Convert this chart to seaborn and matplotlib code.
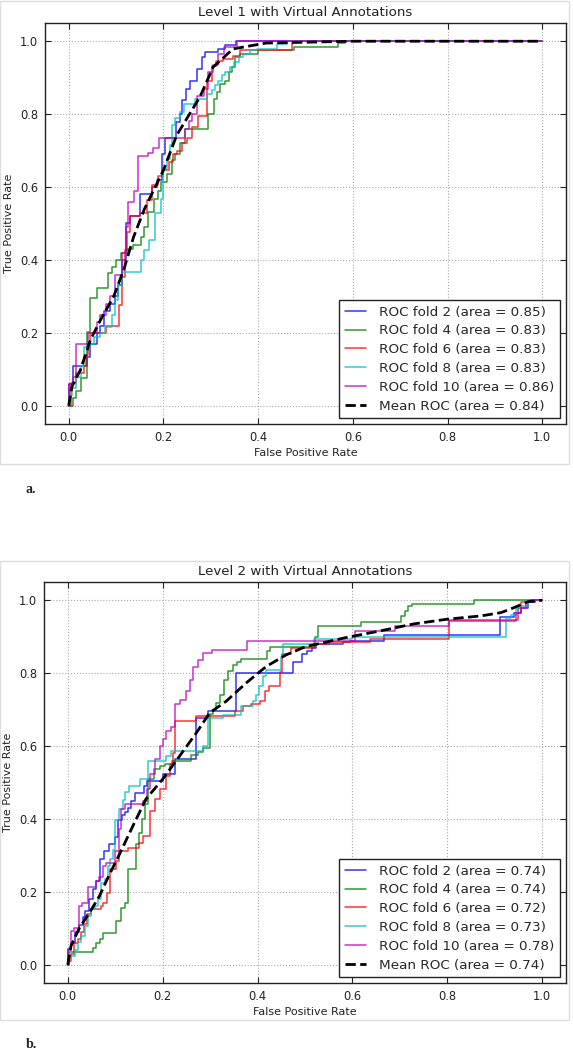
import matplotlib
matplotlib.use("Agg")
import matplotlib.pyplot as plt
import seaborn as sns
import numpy as np
from matplotlib.patches import Rectangle
from matplotlib.ticker import FormatStrFormatter

# ---------- data ----------
fold_names = ["ROC fold 2", "ROC fold 4", "ROC fold 6", "ROC fold 8", "ROC fold 10"]
fold_colors = ["#0000ff", "#008000", "#ff0000", "#00bfbf", "#bf00bf"]

# Level 1 : x = fpr where tpr jumps, y = tpr after the jump
l1_auc = [0.85, 0.83, 0.83, 0.83, 0.86]
l1_mean_auc = 0.84
l1_fpr = [
    [0, 0.01, 0.039, 0.046, 0.06, 0.067, 0.075, 0.088, 0.098, 0.105, 0.112, 0.12, 0.13, 0.151, 0.175, 0.186,
     0.196, 0.204, 0.226, 0.235, 0.24, 0.248, 0.256, 0.27, 0.281, 0.288, 0.316, 0.33, 0.354, 1.0],
    [0.009, 0.016, 0.025, 0.039, 0.046, 0.06, 0.082, 0.091, 0.1, 0.11, 0.124, 0.135, 0.152, 0.16, 0.167, 0.181,
     0.188, 0.194, 0.208, 0.218, 0.225, 0.235, 0.245, 0.295, 0.306, 0.313, 0.32, 0.331, 0.338, 0.345, 0.352,
     0.362, 0.4, 0.476, 0.568, 0.583, 1.0],
    [0.004, 0.015, 0.032, 0.037, 0.04, 0.046, 0.078, 0.106, 0.113, 0.118, 0.124, 0.13, 0.151, 0.165, 0.175, 0.189,
     0.2, 0.211, 0.221, 0.228, 0.239, 0.249, 0.26, 0.274, 0.291, 0.302, 0.312, 0.326, 0.347, 0.361, 0.471, 1.0],
    [0, 0.007, 0.016, 0.025, 0.032, 0.044, 0.053, 0.067, 0.077, 0.091, 0.098, 0.105, 0.112, 0.152, 0.159, 0.169,
     0.183, 0.194, 0.2, 0.208, 0.213, 0.218, 0.225, 0.236, 0.243, 0.267, 0.292, 0.302, 0.309, 0.316, 0.324, 0.33,
     0.341, 0.348, 0.359, 0.369, 0.383, 0.397, 0.44, 0.461, 1.0],
    [0, 0.009, 0.016, 0.04, 0.06, 0.067, 0.079, 0.088, 0.098, 0.112, 0.12, 0.126, 0.137, 0.146, 0.167, 0.177,
     0.191, 0.246, 0.253, 0.26, 0.271, 0.285, 0.295, 0.305, 0.316, 0.327, 0.355, 1.0],
]
l1_tpr = [
    [0.06, 0.11, 0.135, 0.17, 0.2, 0.22, 0.26, 0.28, 0.30, 0.33, 0.40, 0.50, 0.52, 0.58, 0.60, 0.62,
     0.69, 0.735, 0.778, 0.80, 0.838, 0.87, 0.89, 0.924, 0.956, 0.97, 0.98, 0.99, 1.0, 1.0],
    [0.02, 0.04, 0.076, 0.203, 0.297, 0.322, 0.363, 0.38, 0.40, 0.42, 0.43, 0.44, 0.463, 0.49, 0.532, 0.568,
     0.59, 0.614, 0.637, 0.673, 0.69, 0.72, 0.76, 0.80, 0.842, 0.86, 0.883, 0.89, 0.915, 0.93, 0.956,
     0.965, 0.975, 0.985, 0.995, 1.0, 1.0],
    [0.062, 0.089, 0.108, 0.14, 0.17, 0.20, 0.219, 0.276, 0.354, 0.427, 0.477, 0.52, 0.53, 0.564, 0.605, 0.63,
     0.646, 0.67, 0.69, 0.70, 0.72, 0.735, 0.766, 0.796, 0.89, 0.933, 0.945, 0.95, 0.96, 0.975, 1.0, 1.0],
    [0.03, 0.05, 0.08, 0.11, 0.162, 0.17, 0.19, 0.20, 0.217, 0.25, 0.29, 0.33, 0.368, 0.40, 0.427, 0.454,
     0.53, 0.568, 0.65, 0.678, 0.714, 0.77, 0.79, 0.805, 0.828, 0.842, 0.856, 0.865, 0.88, 0.89, 0.906, 0.915,
     0.929, 0.942, 0.956, 0.965, 0.975, 0.98, 0.993, 1.0, 1.0],
    [0.06, 0.08, 0.17, 0.20, 0.23, 0.25, 0.28, 0.30, 0.36, 0.42, 0.49, 0.56, 0.59, 0.685, 0.694, 0.707,
     0.735, 0.76, 0.78, 0.80, 0.85, 0.87, 0.915, 0.935, 0.965, 0.984, 1.0, 1.0],
]
l1_mean_fpr = [0, 0.007, 0.025, 0.046, 0.067, 0.095, 0.116, 0.137, 0.16, 0.2, 0.228, 0.277, 0.305, 0.347,
               0.417, 0.6, 1.0]
l1_mean_tpr = [0, 0.053, 0.099, 0.181, 0.235, 0.30, 0.372, 0.463, 0.54, 0.646, 0.742, 0.847, 0.929, 0.979,
               0.995, 1.0, 1.0]

# Level 2
l2_auc = [0.74, 0.74, 0.72, 0.73, 0.78]
l2_mean_auc = 0.74
l2_fpr = [
    [0, 0.007, 0.016, 0.023, 0.032, 0.037, 0.044, 0.053, 0.06, 0.068, 0.077, 0.088, 0.099, 0.106, 0.115, 0.12,
     0.127, 0.134, 0.141, 0.16, 0.166, 0.2, 0.225, 0.271, 0.295, 0.354, 0.474, 0.494, 0.505, 0.515, 0.523, 0.58,
     0.594, 0.666, 0.91, 0.94, 0.955, 0.97, 0.985, 1.0],
    [0.003, 0.053, 0.06, 0.067, 0.074, 0.102, 0.113, 0.12, 0.127, 0.144, 0.15, 0.157, 0.163, 0.169, 0.181,
     0.194, 0.206, 0.22, 0.26, 0.275, 0.285, 0.30, 0.306, 0.313, 0.32, 0.33, 0.338, 0.348, 0.356, 0.366, 0.419,
     0.427, 0.521, 0.528, 0.618, 0.702, 0.71, 0.717, 0.726, 0.857, 1.0],
    [0.003, 0.007, 0.014, 0.021, 0.028, 0.035, 0.04, 0.049, 0.07, 0.075, 0.082, 0.09, 0.102, 0.107, 0.127,
     0.151, 0.158, 0.173, 0.183, 0.194, 0.208, 0.215, 0.222, 0.227, 0.271, 0.352, 0.369, 0.387, 0.405, 0.415,
     0.425, 0.447, 0.452, 0.47, 0.52, 0.55, 0.637, 0.804, 0.948, 0.955, 0.975, 1.0],
    [0, 0.015, 0.022, 0.029, 0.036, 0.043, 0.05, 0.057, 0.064, 0.071, 0.078, 0.085, 0.09, 0.095, 0.099, 0.109,
     0.116, 0.12, 0.13, 0.152, 0.169, 0.208, 0.218, 0.285, 0.295, 0.327, 0.366, 0.39, 0.397, 0.404, 0.411,
     0.418, 0.45, 0.454, 0.52, 0.6, 0.924, 0.935, 0.945, 0.952, 0.97, 0.985, 1.0],
    [0, 0.007, 0.014, 0.023, 0.03, 0.042, 0.06, 0.065, 0.074, 0.081, 0.099, 0.109, 0.113, 0.12, 0.158, 0.166,
     0.173, 0.183, 0.194, 0.2, 0.208, 0.218, 0.225, 0.236, 0.25, 0.257, 0.264, 0.275, 0.285, 0.303, 0.377,
     0.605, 0.69, 0.804, 0.945, 0.955, 0.966, 0.984, 1.0],
]
l2_tpr = [
    [0.043, 0.06, 0.09, 0.11, 0.13, 0.148, 0.18, 0.207, 0.23, 0.289, 0.312, 0.33, 0.35, 0.397, 0.41, 0.42,
     0.43, 0.449, 0.47, 0.49, 0.505, 0.523, 0.565, 0.677, 0.695, 0.80, 0.83, 0.853, 0.862, 0.87, 0.88, 0.885,
     0.889, 0.905, 0.955, 0.966, 0.98, 0.994, 1.0, 1.0],
    [0.034, 0.047, 0.061, 0.07, 0.086, 0.12, 0.155, 0.17, 0.262, 0.33, 0.362, 0.40, 0.44, 0.509, 0.536,
     0.545, 0.55, 0.56, 0.575, 0.585, 0.595, 0.689, 0.70, 0.718, 0.74, 0.78, 0.807, 0.823, 0.83, 0.839, 0.862,
     0.873, 0.90, 0.93, 0.939, 0.957, 0.97, 0.985, 0.99, 1.0, 1.0],
    [0.01, 0.029, 0.059, 0.07, 0.09, 0.111, 0.139, 0.152, 0.16, 0.17, 0.198, 0.262, 0.284, 0.312, 0.321,
     0.335, 0.353, 0.421, 0.455, 0.482, 0.518, 0.55, 0.582, 0.668, 0.682, 0.695, 0.709, 0.714, 0.723, 0.75,
     0.764, 0.804, 0.853, 0.87, 0.88, 0.885, 0.895, 0.945, 0.98, 0.994, 1.0, 1.0],
    [0.025, 0.04, 0.062, 0.08, 0.107, 0.135, 0.153, 0.162, 0.18, 0.225, 0.235, 0.27, 0.289, 0.316, 0.398, 0.426,
     0.453, 0.473, 0.49, 0.509, 0.559, 0.573, 0.586, 0.60, 0.677, 0.686, 0.711, 0.723, 0.741, 0.764, 0.791,
     0.809, 0.845, 0.88, 0.893, 0.898, 0.951, 0.96, 0.975, 0.985, 0.998, 1.0, 1.0],
    [0.04, 0.093, 0.10, 0.161, 0.17, 0.214, 0.23, 0.24, 0.27, 0.28, 0.312, 0.373, 0.426, 0.44, 0.45, 0.482,
     0.523, 0.564, 0.60, 0.62, 0.64, 0.653, 0.714, 0.725, 0.75, 0.78, 0.818, 0.835, 0.855, 0.864, 0.889,
     0.915, 0.93, 0.944, 0.966, 0.98, 0.994, 1.0, 1.0],
]
l2_mean_fpr = [0, 0.007, 0.025, 0.046, 0.067, 0.088, 0.109, 0.137, 0.165, 0.2, 0.236, 0.271, 0.299, 0.334,
               0.376, 0.418, 0.46, 0.502, 0.588, 0.659, 0.729, 0.8, 0.871, 0.913, 0.941, 0.97, 1.0]
l2_mean_tpr = [0, 0.052, 0.102, 0.143, 0.189, 0.248, 0.303, 0.38, 0.455, 0.509, 0.573, 0.636, 0.691, 0.723,
               0.773, 0.818, 0.85, 0.873, 0.898, 0.916, 0.935, 0.948, 0.957, 0.966, 0.98, 0.996, 1.0]

ticks = [0.0, 0.2, 0.4, 0.6, 0.8, 1.0]

# ---------- style ----------
sns.set_style("white", rc={
    "xtick.direction": "in", "ytick.direction": "in",
    "xtick.top": True, "ytick.right": True,
    "xtick.bottom": True, "ytick.left": True,
    "axes.edgecolor": "#222222",
})
plt.rcParams["font.family"] = ["DejaVu Sans"]

W, H = 573, 1050
fig = plt.figure(figsize=(W / 100, H / 100), dpi=100)
fig.patch.set_facecolor("white")


def px_box(x0, y0, x1, y1):
    return [x0 / W, 1 - y1 / H, (x1 - x0) / W, (y1 - y0) / H]


def draw_panel(ax, title, fprs, tprs, aucs, mfpr, mtpr, mauc):
    for name, col, xs, ys, auc in zip(fold_names, fold_colors, fprs, tprs, aucs):
        sns.lineplot(x=[0] + xs, y=[0] + ys, estimator=None, sort=False, drawstyle="steps-post",
                     color=col, lw=1.1, alpha=0.8, label=f"{name} (area = {auc:.2f})", ax=ax)
    sns.lineplot(x=mfpr, y=mtpr, estimator=None, sort=False, color="k", lw=2, linestyle="--",
                 label=f"Mean ROC (area = {mauc:.2f})", ax=ax)
    ax.set_xlim(-0.05, 1.05)
    ax.set_ylim(-0.05, 1.05)
    ax.set_xticks(ticks)
    ax.set_yticks(ticks)
    ax.xaxis.set_major_formatter(FormatStrFormatter("%.1f"))
    ax.yaxis.set_major_formatter(FormatStrFormatter("%.1f"))
    ax.tick_params(length=4, width=0.8, labelsize=8.3, pad=5, colors="#222222")
    ax.grid(True, color="#aaaaaa", linestyle=":", linewidth=0.8)
    for s in ax.spines.values():
        s.set_linewidth(1.0)
    ax.set_title(title, fontsize=9.6, pad=5, color="#222222")
    ax.set_xlabel("False Positive Rate", fontsize=8, labelpad=3, color="#222222")
    ax.set_ylabel("True Positive Rate", fontsize=8, labelpad=4, color="#222222")
    leg = ax.legend(loc="lower right", fontsize=9.7, frameon=True, fancybox=False, framealpha=1,
                    edgecolor="#222222", handlelength=1.55, handletextpad=1.0, labelspacing=0.43,
                    borderpad=0.4, borderaxespad=0.45)
    leg.get_frame().set_linewidth(1.0)


ax1 = fig.add_axes(px_box(45, 23, 566, 424))
draw_panel(ax1, "Level 1 with Virtual Annotations", l1_fpr, l1_tpr, l1_auc, l1_mean_fpr, l1_mean_tpr, l1_mean_auc)
ax2 = fig.add_axes(px_box(44, 582, 566, 983))
draw_panel(ax2, "Level 2 with Virtual Annotations", l2_fpr, l2_tpr, l2_auc, l2_mean_fpr, l2_mean_tpr, l2_mean_auc)

# light frames around each sub-figure
for y0, y1 in [(1, 464), (561, 1020)]:
    fig.patches.append(Rectangle((0, 1 - y1 / H), 569 / W, (y1 - y0) / H, transform=fig.transFigure,
                                 fill=False, edgecolor="#dddddd", lw=1.0))

fig.text(25 / W, 1 - 489.5 / H, "a.", fontsize=10, fontweight="bold", family="Liberation Serif", va="center")
fig.text(26 / W, 1 - 1045 / H, "b.", fontsize=10, fontweight="bold", family="Liberation Serif", va="center")

fig.savefig("out.png", dpi=100, facecolor="white")
